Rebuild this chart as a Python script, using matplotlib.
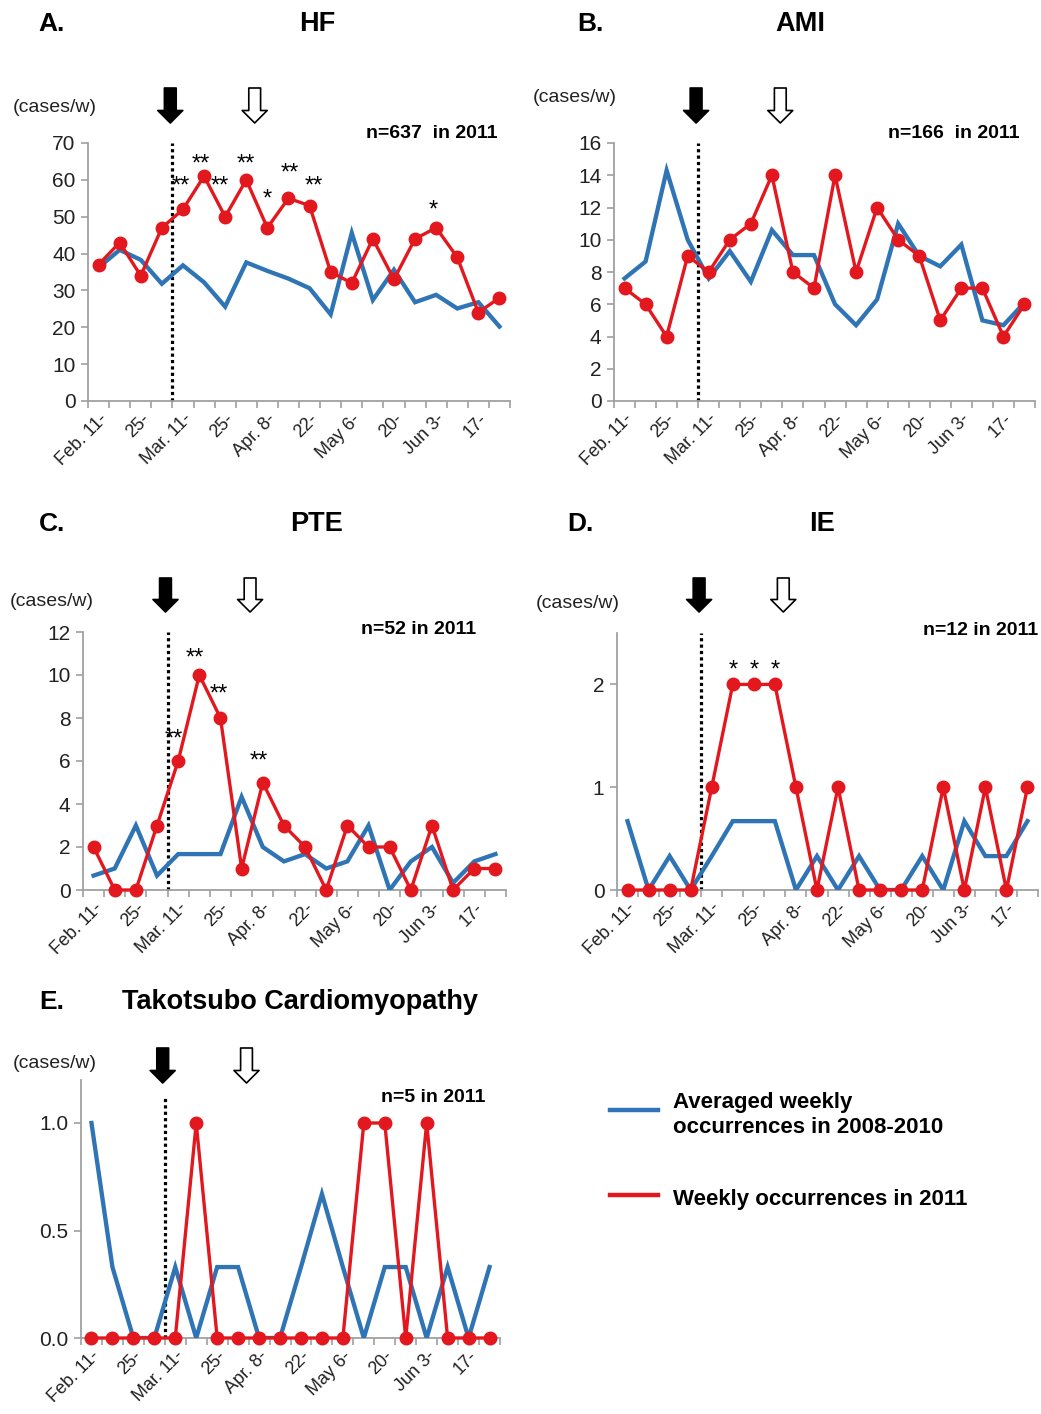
import matplotlib
matplotlib.use('Agg')
import matplotlib.pyplot as plt
from matplotlib.lines import Line2D
import numpy as np

plt.rcParams['font.family'] = ['Liberation Sans', 'DejaVu Sans']

# ---------------- data ----------------
week_labels = ['Feb. 11-', '', '25-', '', 'Mar. 11-', '', '25-', '', 'Apr. 8-', '',
               '22-', '', 'May 6-', '', '20-', '', 'Jun 3-', '', '17-', '']

hf_2011 = [37, 43, 34, 47, 52, 61, 50, 60, 47, 55, 53, 35, 32, 44, 33, 44, 47, 39, 24, 28]
hf_avg = [36.2, 41, 38.3, 31.8, 36.8, 32.2, 25.6, 37.6, 35.3, 33.2, 30.6, 23.5, 45.6,
          27.4, 35.6, 26.8, 28.8, 25.1, 26.8, 20.2]

ami_2011 = [7, 6, 4, 9, 8, 10, 11, 14, 8, 7, 14, 8, 12, 10, 9, 5, 7, 7, 4, 6]
ami_avg = [7.6, 8.65, 14.3, 10, 7.6, 9.3, 7.4, 10.6, 9.05, 9.05, 6, 4.7, 6.3, 11,
           9, 8.35, 9.7, 5, 4.7, 6.1]

pte_2011 = [2, 0, 0, 3, 6, 10, 8, 1, 5, 3, 2, 0, 3, 2, 2, 0, 3, 0, 1, 1]
pte_avg = [0.67, 1.0, 3.0, 0.67, 1.67, 1.67, 1.67, 4.33, 2.0, 1.33, 1.67, 1.0, 1.33,
           3.0, 0, 1.33, 2.0, 0.33, 1.33, 1.67]

ie_2011 = [0, 0, 0, 0, 1, 2, 2, 2, 1, 0, 1, 0, 0, 0, 0, 1, 0, 1, 0, 1]
ie_avg = [0.67, 0, 0.33, 0, 0.33, 0.67, 0.67, 0.67, 0, 0.33, 0, 0.33, 0, 0, 0.33, 0,
          0.67, 0.33, 0.33, 0.67]

tc_2011 = [0, 0, 0, 0, 0, 1, 0, 0, 0, 0, 0, 0, 0, 1, 1, 0, 1, 0, 0, 0]
tc_avg = [1.0, 0.33, 0, 0, 0.33, 0, 0.33, 0.33, 0, 0, 0.33, 0.67, 0.33, 0, 0.33, 0.33,
          0, 0.33, 0, 0.33]

# significance marks: (x position, label, y position)
hf_stars = [(3.9, '**', 60), (4.85, '**', 66), (5.75, '**', 60), (7.0, '**', 66),
            (8.0, '*', 56.5), (9.05, '**', 63.5), (10.2, '**', 60), (15.85, '*', 53.5)]
ami_stars = []
pte_stars = [(3.8, '**', 7.3), (4.8, '**', 11.1), (5.9, '**', 9.4), (7.8, '**', 6.3)]
ie_stars = [(5, '*', 2.2), (6, '*', 2.2), (7, '*', 2.2)]
tc_stars = []

BLUE = '#2f74b5'
RED = '#e3171e'
W, H = 1041, 1414

fig = plt.figure(figsize=(W / 100, H / 100), dpi=100)


def make_axes(left, right, top, bottom):
    return fig.add_axes([left / W, 1 - bottom / H, (right - left) / W, (bottom - top) / H])


panels = [
    dict(box=(88, 510, 143, 401), red=hf_2011, blue=hf_avg, ylim=(0, 70), yticks=np.arange(0, 71, 10),
         fmt='{:.0f}', stars=hf_stars, n='n=637  in 2011', n_xy=(497, 133), cw_xy=(55, 108),
         arrow_y=(88, 123), vtop=70, letter=('A.', 52, 22), title=('HF', 317, 22)),
    dict(box=(614, 1035, 143, 401), red=ami_2011, blue=ami_avg, ylim=(0, 16), yticks=np.arange(0, 17, 2),
         fmt='{:.0f}', stars=ami_stars, n='n=166  in 2011', n_xy=(1020, 133), cw_xy=(575, 98),
         arrow_y=(88, 123), vtop=16, letter=('B.', 590, 22), title=('AMI', 800, 22)),
    dict(box=(83, 506, 632, 890), red=pte_2011, blue=pte_avg, ylim=(0, 12), yticks=np.arange(0, 13, 2),
         fmt='{:.0f}', stars=pte_stars, n='n=52 in 2011', n_xy=(476, 629), cw_xy=(52, 602),
         arrow_y=(578, 612), vtop=12, letter=('C.', 52, 522), title=('PTE', 317, 522)),
    dict(box=(617, 1038, 633, 890), red=ie_2011, blue=ie_avg, ylim=(0, 2.5), yticks=[0, 1, 2],
         fmt='{:.0f}', stars=ie_stars, n='n=12 in 2011', n_xy=(1038, 631), cw_xy=(578, 603),
         arrow_y=(578, 612), vtop=2.5, letter=('D.', 580, 522), title=('IE', 822, 522)),
    dict(box=(81, 500, 1080, 1338), red=tc_2011, blue=tc_avg, ylim=(0, 1.2), yticks=[0, 0.5, 1.0],
         fmt='{:.1f}', stars=tc_stars, n='n=5 in 2011', n_xy=(485, 1098), cw_xy=(55, 1063),
         arrow_y=(1048, 1083), vtop=1.12, letter=('E.', 52, 1000),
         title=('Takotsubo Cardiomyopathy', 300, 1000)),
]

x = np.arange(len(week_labels))
for p in panels:
    ax = make_axes(*p['box'])
    ax.plot(x, p['blue'], color=BLUE, lw=3.1, solid_joinstyle='miter', zorder=3)
    ax.plot(x, p['red'], color=RED, lw=2.4, marker='o', markersize=9, zorder=4,
            clip_on=False)
    ax.set_xlim(-0.5, len(x) - 0.5)
    ax.set_ylim(*p['ylim'])
    ax.set_yticks(p['yticks'])
    ax.set_yticklabels([p['fmt'].format(v) for v in p['yticks']], fontsize=15, color='#222222')
    ax.set_xticks(x)
    ax.set_xticklabels(week_labels, rotation=45, ha='right', rotation_mode='anchor',
                       fontsize=13, color='#222222')
    ax.set_xticks(np.arange(-0.5, len(x), 1), minor=True)
    ax.tick_params(axis='x', which='major', length=0, pad=7)
    ax.tick_params(axis='x', which='minor', length=5, color='#a0a0a0', width=1.2)
    ax.tick_params(axis='y', length=5, color='#a0a0a0', width=1.2, pad=4)
    for s in ('top', 'right'):
        ax.spines[s].set_visible(False)
    for s in ('left', 'bottom'):
        ax.spines[s].set_color('#a0a0a0')
        ax.spines[s].set_linewidth(1.3)
    ax.plot([3.5, 3.5], [0, p['vtop']], color='black', lw=2.3, linestyle=(0, (1, 1)),
            zorder=2, clip_on=False)
    for sx, lab, sy in p['stars']:
        ax.annotate(lab, xy=(sx, sy), xytext=(0, -5), textcoords='offset points',
                    ha='center', va='center', fontsize=17, color='black', zorder=6)
    # arrows (earthquake: filled, later: open)
    y0, y1 = p['arrow_y']
    for ax_x, fc in ((3.4, 'black'), (7.4, 'white')):
        ax.annotate('', xy=(ax_x, H - y1), xytext=(ax_x, H - y0),
                    xycoords=('data', 'figure pixels'), textcoords=('data', 'figure pixels'),
                    arrowprops=dict(arrowstyle='simple,head_width=1.8,head_length=0.9,tail_width=0.85',
                                    mutation_scale=10, fc=fc, ec='black', lw=1.2,
                                    shrinkA=0, shrinkB=0),
                    annotation_clip=False)
    fig.text(p['n_xy'][0] / W, 1 - p['n_xy'][1] / H, p['n'], ha='right', va='center',
             fontsize=14, fontweight='bold')
    fig.text(p['cw_xy'][0] / W, 1 - p['cw_xy'][1] / H, '(cases/w)', ha='center', va='center',
             fontsize=14, color='#222222')
    lt, lx, ly = p['letter']
    fig.text(lx / W, 1 - (ly + 2) / H, lt, ha='center', va='center', fontsize=19, fontweight='bold')
    tt, tx, ty = p['title']
    fig.text(tx / W, 1 - (ty + 2) / H, tt, ha='center', va='center', fontsize=19.5, fontweight='bold')

# legend
legend_items = [(BLUE, 'Averaged weekly\noccurrences in 2008-2010', 1110, 1115),
                (RED, 'Weekly occurrences in 2011', 1195, 1199)]
for col, lab, ly, ty in legend_items:
    fig.add_artist(Line2D([610 / W, 658 / W], [1 - ly / H, 1 - ly / H], color=col, lw=3.2))
    fig.text(673 / W, 1 - ty / H, lab, ha='left', va='center', fontsize=16,
             fontweight='bold', linespacing=1.3)

fig.savefig('out.png', dpi=100)
